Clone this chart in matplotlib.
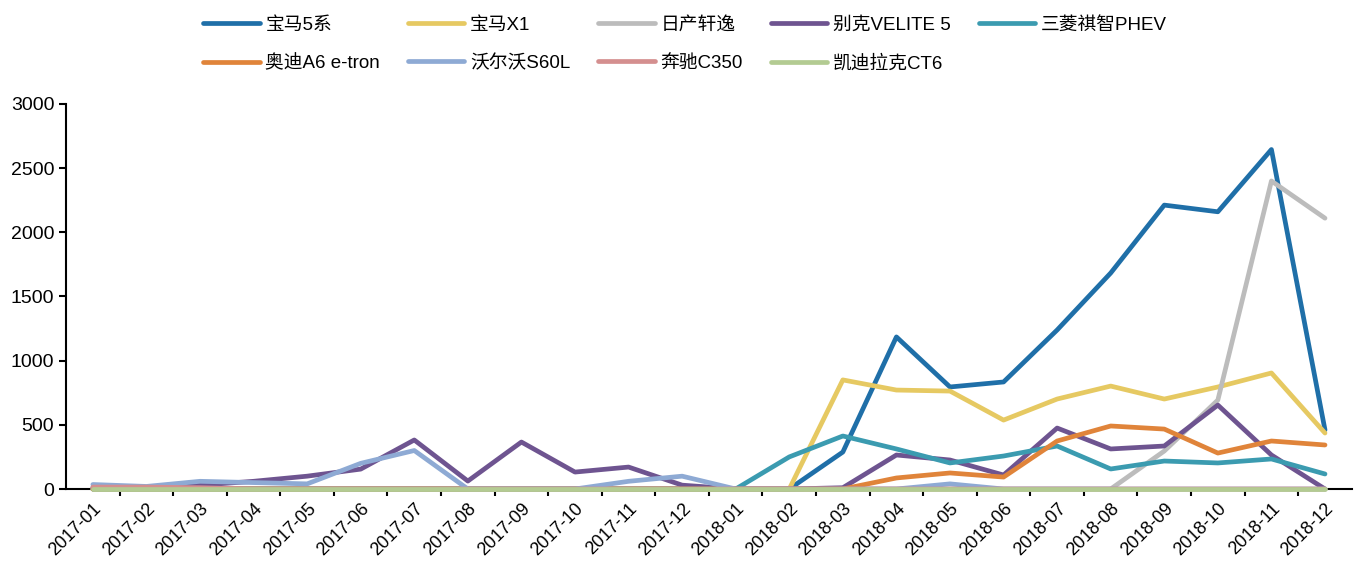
import matplotlib.pyplot as plt
from matplotlib.ticker import FixedLocator

plt.rcParams['font.family'] = ['Liberation Sans Narrow', 'Liberation Sans', 'Noto Sans CJK SC']

months = ['2017-01', '2017-02', '2017-03', '2017-04', '2017-05', '2017-06',
          '2017-07', '2017-08', '2017-09', '2017-10', '2017-11', '2017-12',
          '2018-01', '2018-02', '2018-03', '2018-04', '2018-05', '2018-06',
          '2018-07', '2018-08', '2018-09', '2018-10', '2018-11', '2018-12']

bmw_5 = [0, 0, 0, 0, 0, 0, 0, 0, 0, 0, 0, 0,
         0, 0, 288, 1185, 795, 834, 1239, 1683, 2212, 2160, 2645, 460]
bmw_x1 = [0, 0, 0, 0, 0, 0, 0, 0, 0, 0, 0, 0,
          0, 0, 850, 771, 763, 537, 701, 802, 701, 795, 904, 436]
nissan_sylphy = [0, 0, 0, 0, 0, 0, 0, 0, 0, 0, 0, 0,
                 0, 0, 0, 0, 0, 0, 0, 0, 296, 693, 2400, 2110]
buick_velite5 = [10, 10, 30, 60, 100, 155, 382, 62, 366, 132, 171, 30,
                 0, 0, 10, 265, 226, 109, 475, 312, 335, 654, 265, 0]
mitsubishi_phev = [0, 0, 0, 0, 0, 0, 0, 0, 0, 0, 0, 0,
                   0, 250, 413, 312, 203, 257, 335, 156, 218, 203, 234, 117]
audi_a6 = [0, 0, 0, 0, 0, 0, 0, 0, 0, 0, 0, 0,
           0, 0, 0, 86, 125, 93, 374, 491, 467, 280, 374, 343]
volvo_s60l = [35, 20, 60, 50, 40, 200, 300, 0, 0, 0, 60, 100,
              0, 0, 0, 0, 40, 0, 0, 0, 0, 0, 0, 0]
benz_c350 = [15, 15, 10, 0, 0, 0, 0, 0, 0, 0, 0, 0,
             0, 0, 0, 0, 0, 0, 0, 0, 0, 0, 0, 0]
cadillac_ct6 = [0] * 24

series = [
    ('宝马5系', bmw_5, '#1f6fa8'),
    ('宝马X1', bmw_x1, '#e6c962'),
    ('日产轩逸', nissan_sylphy, '#bcbcbc'),
    ('别克VELITE 5', buick_velite5, '#6e5490'),
    ('三菱祺智PHEV', mitsubishi_phev, '#3b9bb0'),
    ('奥迪A6 e-tron', audi_a6, '#e0843a'),
    ('沃尔沃S60L', volvo_s60l, '#8eaad4'),
    ('奔驰C350', benz_c350, '#d48f8f'),
    ('凯迪拉克CT6', cadillac_ct6, '#b3cb92'),
]

fig = plt.figure(figsize=(13.62, 5.65), dpi=100)
ax = fig.add_axes([0.0485, 0.1345, 0.944, 0.6815])

x = list(range(len(months)))
lines = []
for name, vals, color in series:
    ln, = ax.plot(x, vals, color=color, lw=3.4, label=name,
                  solid_capstyle='round', clip_on=False, zorder=3)
    lines.append(ln)

ax.set_xlim(-0.5, len(months) - 0.5)
ax.set_ylim(0, 3000)
ax.set_yticks(range(0, 3001, 500))
ax.tick_params(axis='y', direction='out', length=5, width=1.5, labelsize=14)

ax.set_xticks(x)
ax.set_xticklabels(months, rotation=45, ha='right', rotation_mode='anchor', fontsize=13)
ax.tick_params(axis='x', which='major', length=0, pad=8)
ax.xaxis.set_minor_locator(FixedLocator([i + 0.5 for i in range(len(months) - 1)]))
ax.tick_params(axis='x', which='minor', direction='out', length=5, width=1.5)

for side in ['top', 'right']:
    ax.spines[side].set_visible(False)
for side in ['left', 'bottom']:
    ax.spines[side].set_linewidth(1.5)
    ax.spines[side].set_zorder(2)

# legend fills column by column, so interleave to get two rows in series order
order = [0, 5, 1, 6, 2, 7, 3, 8, 4]
fig.legend([lines[i] for i in order], [series[i][0] for i in order],
           loc='upper left', bbox_to_anchor=(0.137, 1.0), ncol=5, frameon=False,
           fontsize=13.5, handlelength=3.0, handletextpad=0.3, columnspacing=1.5,
           labelspacing=1.1)

fig.savefig('out.png', dpi=100)
